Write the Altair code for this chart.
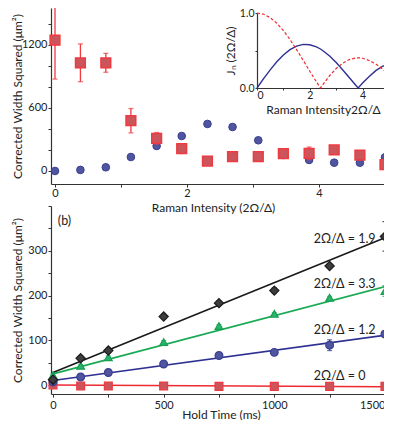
import altair as alt
import pandas as pd

# ---------------- data: panel (a) ----------------
raman_x = [0, 0.385, 0.77, 1.15, 1.54, 1.92, 2.31, 2.69, 3.08, 3.46, 3.85, 4.23, 4.62, 5.0]
red_w2 = [1245, 1030, 1030, 479, 311, 212, 95, 136, 136, 165, 168, 200, 152, 60]
red_err = [370, 180, 90, 116, 55, 45, 15, 15, 15, 15, 60, 40, 15, 15]
blue_w2 = [0, 10, 35, 133, 238, 333, 448, 419, 292, 152, 105, 79, 79, 130]

# inset: |J0| and |J1|
inset_x = [0, 0.25, 0.5, 0.75, 1.0, 1.25, 1.5, 1.75, 2.0, 2.25, 2.405, 2.5, 2.75, 3.0,
           3.25, 3.5, 3.75, 3.832, 4.0, 4.25, 4.5, 4.75, 5.0]
j0_abs = [1.0, 0.984, 0.938, 0.864, 0.765, 0.646, 0.512, 0.369, 0.224, 0.083, 0.0, 0.048,
          0.164, 0.260, 0.331, 0.380, 0.402, 0.403, 0.397, 0.366, 0.321, 0.255, 0.178]
j1_abs = [0.0, 0.124, 0.242, 0.349, 0.440, 0.511, 0.558, 0.581, 0.577, 0.548, 0.520, 0.497,
          0.426, 0.339, 0.241, 0.137, 0.033, 0.0, 0.066, 0.152, 0.231, 0.288, 0.328]

# ---------------- data: panel (b) ----------------
hold_ms = [0, 125, 250, 500, 750, 1000, 1250, 1500]
series_names = ["2Ω/Δ = 1.9", "2Ω/Δ = 3.3", "2Ω/Δ = 1.2", "2Ω/Δ = 0"]
w2_19 = [12, 60, 77, 153, 183, 211, 266, 332]
err_19 = [8, 5, 6, 5, 5, 6, 5, 33]
w2_33 = [22, 43, 62, 96, 132, 159, 195, 210]
err_33 = [3, 3, 3, 3, 3, 3, 3, 12]
w2_12 = [7, 18, 28, 47, 66, 73, 89, 114]
err_12 = [2, 2, 2, 2, 2, 2, 12, 2]
w2_0 = [0, -2, -2, -2, -3, -3, -3, -3]
err_0 = [1, 1, 1, 1, 1, 1, 1, 1]
fit_x = [0, 1600]
fit_19 = [28, 349]
fit_33 = [25, 233]
fit_12 = [10, 118]
fit_0 = [0, -4]
label_x = [1178, 1178, 1178, 1178]
label_y = [327, 226, 122, 19.5]

# ---------------- layout / style ----------------
FONT = "Lato"
TITLE_FS = 12
Y_EXT = 27                         # fixed extent of y ticks+labels
PAD_L = 3
PL = 8 + PAD_L + TITLE_FS + Y_EXT  # page x of the plot's left edge
PR = 398.0                         # page x of the plot's right edge
W = PR - PL
RIGHT_PAD = -15                    # keeps the drawing inside the page width
RED_F, RED_S = "#cc545b", "#ee3a41"
BLUE_F, BLUE_S = "#50559f", "#3a3f92"
BLK_F, BLK_S = "#3d3d3d", "#1c1c1c"
GRN_F, GRN_S = "#2bb370", "#14a050"
LINE_COL = ["#1a1a1a", "#1aaa55", "#2e3192", "#ee2a31"]

# ---------------- panel (a) ----------------
top_df = pd.DataFrame({
    "x": raman_x, "red": red_w2, "blue": blue_w2,
    "lo": [v - e for v, e in zip(red_w2, red_err)],
    "hi": [v + e for v, e in zip(red_w2, red_err)],
})
PX_A = 66.0   # pixels per Raman unit, 0 at page x 54
xs_top = alt.Scale(domain=[(PL - 54) / PX_A, (PR - 54) / PX_A], nice=False, zero=False)
ys_top = alt.Scale(domain=[-124, 1552], nice=False, zero=False)
ax_top_x = alt.Axis(values=[0, 1, 2, 3, 4, 5],
                    labelExpr="datum.value % 2 === 0 ? datum.label : ''",
                    titleX=212 - PL, titlePadding=4)
ax_top_y = alt.Axis(values=[0, 200, 400, 600, 800, 1000, 1200, 1400], format="d",
                    labelExpr="datum.value % 600 === 0 ? datum.label : ''",
                    minExtent=Y_EXT, maxExtent=Y_EXT)
TX = "Raman Intensity (2Ω/Δ)"
TY = "Corrected Width Squared (μm²)"


def xt(field="x"):
    return alt.X(f"{field}:Q", scale=xs_top, axis=ax_top_x, title=TX)


def yt(field):
    return alt.Y(f"{field}:Q", scale=ys_top, axis=ax_top_y, title=TY)


tb = alt.Chart(top_df)
blue_pts = tb.mark_point(shape="circle", filled=True, size=58, fill=BLUE_F, stroke=BLUE_S,
                         strokeWidth=1, opacity=1).encode(x=xt(), y=yt("blue"))
red_bar = tb.mark_rule(color=RED_S, strokeWidth=1.3, clip=True).encode(
    x=xt(), y=yt("lo"), y2="hi:Q")
red_cap_lo = tb.mark_tick(color=RED_S, orient="horizontal", size=5, thickness=1.3,
                          clip=True).encode(x=xt(), y=yt("lo"))
red_cap_hi = tb.mark_tick(color=RED_S, orient="horizontal", size=5, thickness=1.3,
                          clip=True).encode(x=xt(), y=yt("hi"))
red_pts = tb.mark_point(shape="square", filled=True, size=95, fill=RED_F, stroke=RED_S,
                        strokeWidth=1.5, opacity=1).encode(x=xt(), y=yt("red"))
main_a = alt.layer(blue_pts, red_bar, red_cap_lo, red_cap_hi, red_pts)

inset_df = pd.DataFrame({"x": inset_x, "j0": j0_abs, "j1": j1_abs})
xs_in = alt.Scale(domain=[0, 5], range=[256 - PL, 388 - PL], nice=False, zero=False)
ys_in = alt.Scale(domain=[0, 1], range=[80, 5], nice=False, zero=False)
ax_in_x = alt.Axis(orient="bottom", offset=-96, values=[0, 1, 2, 3, 4, 5],
                   labelExpr="datum.value % 2 === 0 ? datum.label : ''",
                   labelFontSize=10.5, titleFontSize=12, tickSize=2, titlePadding=4,
                   labelPadding=0)
ax_in_y = alt.Axis(orient="left", offset=-(256 - PL), values=[0, 0.5, 1], format=".1f",
                   labelExpr="datum.value === 0.5 ? '' : datum.label",
                   labelFontSize=10.5, titleFontSize=12, tickSize=2, titlePadding=2,
                   labelPadding=1)
TIX = "Raman Intensity2Ω/Δ"
TIY = "Jₙ (2Ω/Δ)"
ib = alt.Chart(inset_df)
j1_line = ib.mark_line(color="#2e3192", strokeWidth=1.4).encode(
    x=alt.X("x:Q", scale=xs_in, axis=ax_in_x, title=TIX),
    y=alt.Y("j1:Q", scale=ys_in, axis=ax_in_y, title=TIY))
j0_line = ib.mark_line(color="#ee2a31", strokeWidth=1.2, strokeDash=[3, 2]).encode(
    x=alt.X("x:Q", scale=xs_in, axis=ax_in_x, title=TIX),
    y=alt.Y("j0:Q", scale=ys_in, axis=ax_in_y, title=TIY))
inset = alt.layer(j1_line, j0_line)

panel_a = alt.layer(main_a, inset).resolve_scale(
    x="independent", y="independent").properties(width=W, height=176)

# ---------------- panel (b) ----------------
rows = []
marks = [("2Ω/Δ = 1.9", w2_19, err_19), ("2Ω/Δ = 3.3", w2_33, err_33),
         ("2Ω/Δ = 1.2", w2_12, err_12), ("2Ω/Δ = 0", w2_0, err_0)]
for name, ys, es in marks:
    for t, v, e in zip(hold_ms, ys, es):
        rows.append({"series": name, "t": t, "w": v, "lo": v - e, "hi": v + e})
bot_df = pd.DataFrame(rows)
fit_rows = []
for name, fy in zip(series_names, [fit_19, fit_33, fit_12, fit_0]):
    for t, v in zip(fit_x, fy):
        fit_rows.append({"series": name, "t": t, "w": v})
fit_df = pd.DataFrame(fit_rows)
lab_df = pd.DataFrame({"series": series_names, "t": label_x, "w": label_y})
tag_df = pd.DataFrame({"t": [22], "w": [366], "txt": ["(b)"]})

PX_B = 0.2213   # pixels per ms, 0 at page x 52
xs_b = alt.Scale(domain=[(PL - 52) / PX_B, (PR - 52) / PX_B], nice=False, zero=False)
ys_b = alt.Scale(domain=[-20, 400], nice=False, zero=False)
ax_b_x = alt.Axis(values=[0, 250, 500, 750, 1000, 1250, 1500], format="d",
                  labelExpr="datum.value % 500 === 0 ? datum.label : ''",
                  labelAlign={"condition": {"test": "datum.value === 1500", "value": "right"},
                              "value": "center"},
                  titleX=220 - PL, titlePadding=-1, labelPadding=2)
ax_b_y = alt.Axis(values=[0, 50, 100, 150, 200, 250, 300, 350, 400], format="d",
                  labelExpr="datum.value % 100 === 0 && datum.value < 400 ? datum.label : ''",
                  minExtent=Y_EXT, maxExtent=Y_EXT)
TBX = "Hold Time (ms)"


def xb(field="t"):
    return alt.X(f"{field}:Q", scale=xs_b, axis=ax_b_x, title=TBX)


def yb(field="w"):
    return alt.Y(f"{field}:Q", scale=ys_b, axis=ax_b_y, title=TY)


ser_color = alt.Color("series:N", legend=None,
                      scale=alt.Scale(domain=series_names, range=LINE_COL))
fits = alt.Chart(fit_df).mark_line(strokeWidth=1.6, clip=True).encode(
    x=xb(), y=yb(), color=ser_color, detail="series:N")
bars = alt.Chart(bot_df).mark_rule(strokeWidth=1.2).encode(
    x=xb(), y=yb("lo"), y2="hi:Q", color=ser_color)
caps_lo = alt.Chart(bot_df).mark_tick(orient="horizontal", size=5, thickness=1.2).encode(
    x=xb(), y=yb("lo"), color=ser_color)
caps_hi = alt.Chart(bot_df).mark_tick(orient="horizontal", size=5, thickness=1.2).encode(
    x=xb(), y=yb("hi"), color=ser_color)


def pts(name, shape, size, fill, stroke):
    return alt.Chart(bot_df).transform_filter(
        alt.datum.series == name
    ).mark_point(shape=shape, filled=True, size=size, fill=fill, stroke=stroke,
                 strokeWidth=1.2, opacity=1).encode(x=xb(), y=yb())


p0 = pts("2Ω/Δ = 0", "square", 62, RED_F, RED_S)
p12 = pts("2Ω/Δ = 1.2", "circle", 60, BLUE_F, BLUE_S)
p33 = pts("2Ω/Δ = 3.3", "triangle-up", 60, GRN_F, GRN_S)
p19 = pts("2Ω/Δ = 1.9", "diamond", 85, BLK_F, BLK_S)

labels = alt.Chart(lab_df).mark_text(align="left", baseline="middle", fontSize=12.5,
                                     font=FONT, color="#222222").encode(
    x=xb(), y=yb(), text="series:N")
tag = alt.Chart(tag_df).mark_text(align="left", baseline="middle", fontSize=12.5,
                                  font=FONT, color="#222222").encode(
    x=xb(), y=yb(), text="txt:N")

panel_b = alt.layer(fits, bars, caps_lo, caps_hi, p0, p12, p33, p19, labels, tag).properties(
    width=W, height=188)

chart = alt.vconcat(panel_a, panel_b, spacing=22, bounds="flush").properties(
    padding={"left": PAD_L, "top": 0, "right": RIGHT_PAD, "bottom": 0}
).configure_view(stroke=None).configure_axis(
    grid=False, domainColor="#333333", tickColor="#333333", labelColor="#222222",
    titleColor="#222222", labelFont=FONT, titleFont=FONT, labelFontSize=11,
    titleFontSize=TITLE_FS, titleFontWeight="normal", tickSize=3, labelPadding=1,
    domainWidth=1.2, tickWidth=1
).configure_axisY(titlePadding=0).configure_axisX(labelPadding=0)

chart.save("out.html", embed_options={"renderer": "svg", "actions": False})
